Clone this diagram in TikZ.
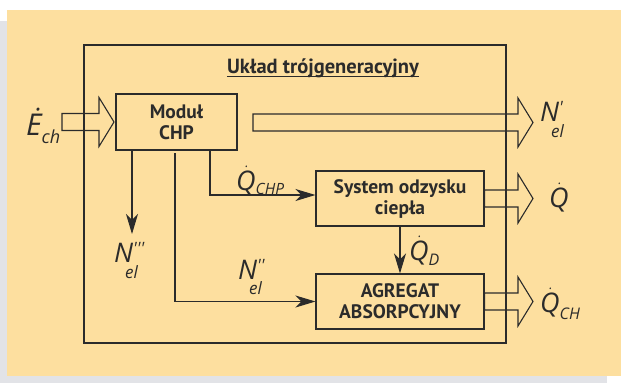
\documentclass[tikz,border=0pt]{standalone}
\usepackage{fontspec}
\setmainfont{PT Sans}
\newfontfamily\labfont{Open Sans}
\usetikzlibrary{arrows.meta,calc}
\definecolor{bgor}{HTML}{FDDF9F}
\definecolor{bggr}{HTML}{E2E3E7}
\definecolor{ink}{HTML}{2B2B2B}
\newcommand\dotover[1]{\leavevmode\setbox0\hbox{#1}\rlap{\hbox to\wd0{\hss\kern2pt\raisebox{\dimexpr\ht0+2.5pt\relax}{\fontsize{13}{13}\selectfont .}\hss}}\box0}
\newcommand\bigsym[2][27]{{\fontsize{#1}{#1}\selectfont #2}}
\newcommand\lowsub[3]{\raisebox{-#1}{\fontsize{#2}{#2}\selectfont #3}}
\newcommand\hollow[3]{\draw[hol] ($(#1)+(0,-8.5)$) -- ($(#1 -| #2)+(0,-8.5)$) -- ($(#1 -| #2)+(0,-24.5)$) -- (#1 -| #3) -- ($(#1 -| #2)+(0,24.5)$) -- ($(#1 -| #2)+(0,8.5)$) -- ($(#1)+(0,8.5)$) -- cycle;}
\begin{document}
\begin{tikzpicture}[x=1pt,y=-1pt,
  ln/.style={draw=ink,line width=1.1pt},
  blk/.style={ln,minimum width=168pt,minimum height=55pt,align=center,inner sep=0pt,
    text=ink,font=\bfseries\fontsize{19.5}{21}\selectfont},
  con/.style={ln,-{Stealth[length=20pt,width=12pt,inset=6pt]}},
  hol/.style={ln,line join=miter},
  lab/.style={inner sep=0pt,anchor=base west,text=ink,font=\labfont\itshape}]
\useasboundingbox (0,0) rectangle (621,383);
\fill[white] (0,0) rectangle (621,383);
\fill[bggr] (0,21) rectangle (607,383);
\fill[bgor] (7,10) rectangle (621,376);

% outer frame
\node[ln,minimum width=422pt,minimum height=298pt,inner sep=0pt] (outer) at (295,194) {};
\node[inner sep=0pt,anchor=base,text=ink,font=\bfseries\fontsize{20.5}{21}\selectfont] (title) at (323,73) {Układ trójgeneracyjny};
\draw[ink,line width=1.1pt] ($(title.base west)+(0,3.5)$) -- ($(title.base east)+(0,3.5)$);

% blocks
\node[blk,minimum width=121pt,minimum height=56pt] (mod) at (176.5,122) {Moduł\\CHP};
\node[blk] (sys) at (400,198.5) {System odzysku\\ciepła};
\node[blk] (agr) at (400,301.5) {AGREGAT\\ABSORPCYJNY};

% helper coordinates for hollow arrows
\coordinate (hb) at (518,0);
\coordinate (ht) at (533,0);
\coordinate (ein) at (62,122);
\coordinate (einb) at (99,0);
\coordinate (eint) at (114,0);
\coordinate (nout) at (253,122.5);

\hollow{ein}{einb}{eint}
\hollow{nout}{hb}{ht}
\hollow{sys.east}{hb}{ht}
\hollow{agr.east}{hb}{ht}

% connectors
\coordinate (n3end) at (132,234);
\draw[con] (mod.south -| n3end) -- (n3end);
\coordinate (n2start) at (175,153);
\draw[con] (n2start) -- (n2start |- agr.west) -- (agr.west);
\coordinate (qchp) at (210,195);
\draw[con] (mod.south -| qchp) -- (qchp) -- (qchp -| sys.west);
\draw[con] (sys.south) -- (agr.north);

% labels
\node[lab] (lE) at (26,135) {\bigsym[30]{Ė}\lowsub{8pt}{18}{ch}};
\node[lab] (lN1) at (540,121) {\bigsym{N}\rlap{\raisebox{8pt}{\fontsize{17}{17}\selectfont '}}\kern-8pt\lowsub{16pt}{17}{el}};
\node[lab] (lQ) at (549,207) {\bigsym{\dotover{Q}}};
\node[lab] (lQCH) at (540,312) {\bigsym{\dotover{Q}}\lowsub{7pt}{16}{CH}};
\node[lab] (lN3) at (114,262) {\bigsym{N}\rlap{\raisebox{8pt}{\fontsize{17}{17}\selectfont '''}}\kern-8pt\lowsub{16pt}{17}{el}};
\node[lab] (lN2) at (238,279) {\bigsym{N}\rlap{\raisebox{8pt}{\fontsize{17}{17}\selectfont ''}}\kern-8pt\lowsub{15pt}{17}{el}};
\node[lab] (lQCHP) at (236,190) {\bigsym{\dotover{Q}}\lowsub{4pt}{15.5}{CHP}};
\node[lab] (lQD) at (409,260) {\bigsym{\dotover{Q}}\lowsub{5pt}{16}{D}};
\end{tikzpicture}
\end{document}
